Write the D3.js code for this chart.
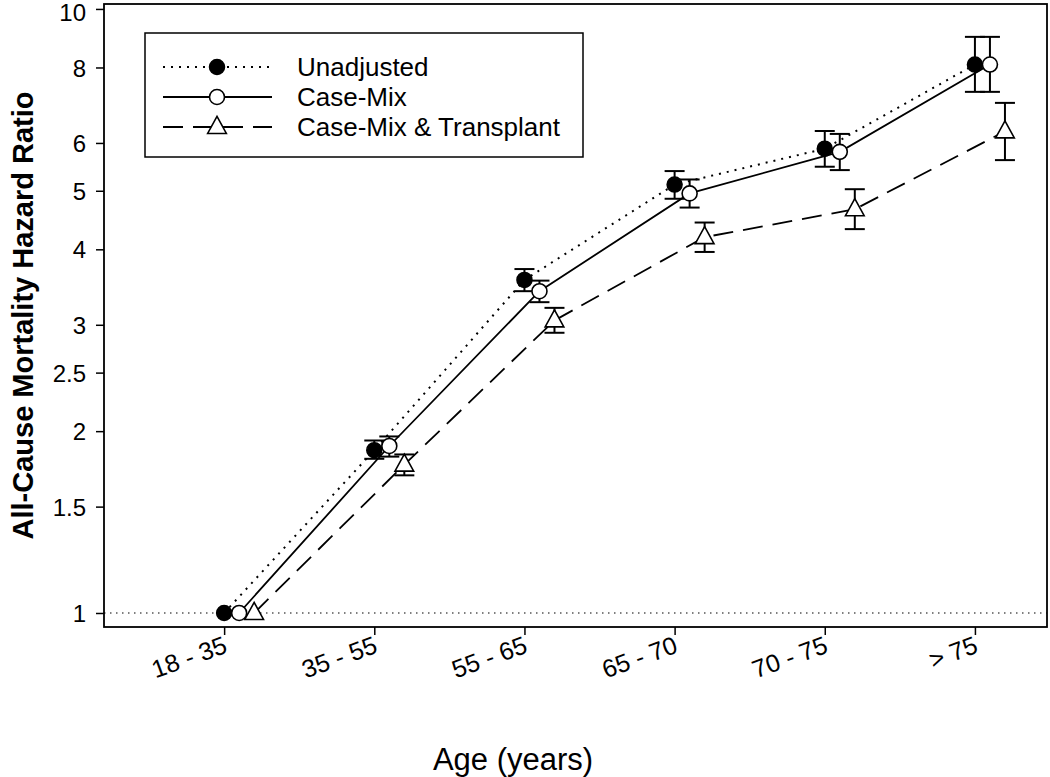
<!DOCTYPE html>
<html><head><meta charset="utf-8">
<script src="https://cdn.jsdelivr.net/npm/d3@7"></script>
<style>
html,body{margin:0;padding:0;background:#fff;}
svg{display:block;font-family:"Liberation Sans",Arial,sans-serif;}
</style></head>
<body><svg id="chart" width="1050" height="777"></svg>
<script>
const ageGroups = ["18 - 35","35 - 55","55 - 65","65 - 70","70 - 75","> 75"];
const yTicks = [1, 1.5, 2, 2.5, 3, 4, 5, 6, 8, 10];
const seriesNames = ["Unadjusted","Case-Mix","Case-Mix & Transplant"];

const unadjusted   = [1, 1.86, 3.56, 5.12, 5.87, 8.09];
const unadjustedLo = [null, 1.80, 3.41, 4.85, 5.48, 7.29];
const unadjustedHi = [null, 1.93, 3.71, 5.39, 6.28, 8.99];

const caseMix   = [1, 1.89, 3.41, 4.95, 5.80, 8.09];
const caseMixLo = [null, 1.815, 3.27, 4.69, 5.41, 7.29];
const caseMixHi = [null, 1.96, 3.55, 5.22, 6.21, 8.99];

const transplant   = [1, 1.76, 3.05, 4.19, 4.66, 6.27];
const transplantLo = [null, 1.69, 2.91, 3.96, 4.32, 5.62];
const transplantHi = [null, 1.83, 3.20, 4.43, 5.03, 6.99];

const svg = d3.select("#chart");
const L = 104, R = 1047, T = 4, B = 627;

const x = d3.scaleLinear().domain([0.2, 6.48]).range([L, R]);
const y = d3.scaleLog().domain([0.948, 10.19]).range([B, T]);

// reference line at 1
svg.append("line").attr("x1", L).attr("x2", R).attr("y1", y(1)).attr("y2", y(1))
  .attr("stroke", "#000").attr("stroke-width", 1.2).attr("stroke-dasharray", "1.5,4.5");

// axes
const yAxis = d3.axisLeft(y).tickValues(yTicks).tickFormat(d => String(d)).tickSize(8).tickPadding(10);
const gy = svg.append("g").attr("transform", `translate(${L},0)`).call(yAxis);
gy.select(".domain").remove();
gy.selectAll(".tick line").attr("stroke-width", 1.5);
gy.selectAll(".tick text").attr("font-size", 24).attr("dy", d => d === 10 ? "0.5em" : "0.36em")
  .attr("font-family", "Liberation Sans, Arial, sans-serif").attr("fill", "#000");

const xAxis = d3.axisBottom(x).tickValues(d3.range(1, 7)).tickFormat(d => ageGroups[d - 1]).tickSize(8);
const gx = svg.append("g").attr("transform", `translate(0,${B})`).call(xAxis);
gx.select(".domain").remove();
gx.selectAll(".tick line").attr("stroke-width", 1.5);
gx.selectAll(".tick text")
  .attr("font-size", 25).attr("font-family", "Liberation Sans, Arial, sans-serif").attr("fill", "#000")
  .attr("text-anchor", "end").attr("dy", null).attr("y", 0)
  .attr("transform", "translate(4,25) rotate(-20)");

// frame
svg.append("rect").attr("x", L).attr("y", T).attr("width", R - L).attr("height", B - T)
  .attr("fill", "none").attr("stroke", "#000").attr("stroke-width", 1.8);

const series = [
  {name: seriesNames[0], vals: unadjusted, lo: unadjustedLo, hi: unadjustedHi, off: 0, dash: "2,6", marker: "filled"},
  {name: seriesNames[1], vals: caseMix, lo: caseMixLo, hi: caseMixHi, off: 0.1, dash: null, marker: "open"},
  {name: seriesNames[2], vals: transplant, lo: transplantLo, hi: transplantHi, off: 0.2, dash: "20,10", marker: "tri"}
];

const line = d3.line().x(d => x(d.i + 1 + d.off)).y(d => y(d.v));
const triPath = s => `M0,${-s*0.62}L${s*0.55},${s*0.38}L${-s*0.55},${s*0.38}Z`;

function drawMarker(g, type, cx, cy) {
  if (type === "filled") {
    g.append("circle").attr("cx", cx).attr("cy", cy).attr("r", 7.5).attr("fill", "#000").attr("stroke", "#000").attr("stroke-width", 1.5);
  } else if (type === "open") {
    g.append("circle").attr("cx", cx).attr("cy", cy).attr("r", 7.5).attr("fill", "#fff").attr("stroke", "#000").attr("stroke-width", 1.6);
  } else {
    g.append("path").attr("d", triPath(17)).attr("transform", `translate(${cx},${cy})`)
      .attr("fill", "#fff").attr("stroke", "#000").attr("stroke-width", 1.6);
  }
}

series.forEach(s => {
  const g = svg.append("g");
  const pts = s.vals.map((v, i) => ({v, i, off: s.off}));
  g.append("path").attr("d", line(pts)).attr("fill", "none").attr("stroke", "#000")
    .attr("stroke-width", s.dash === "2,6" ? 2 : 1.8).attr("stroke-dasharray", s.dash);
  pts.forEach((p, i) => {
    const cx = x(i + 1 + s.off);
    if (s.lo[i] != null) {
      const yl = y(s.lo[i]), yh = y(s.hi[i]);
      g.append("line").attr("x1", cx).attr("x2", cx).attr("y1", yl).attr("y2", yh).attr("stroke", "#000").attr("stroke-width", 2);
      [yl, yh].forEach(yy => g.append("line").attr("x1", cx - 10).attr("x2", cx + 10).attr("y1", yy).attr("y2", yy).attr("stroke", "#000").attr("stroke-width", 2));
    }
    drawMarker(g, s.marker, cx, y(p.v));
  });
});

// legend
const lg = svg.append("g");
lg.append("rect").attr("x", 145).attr("y", 33).attr("width", 438).attr("height", 124)
  .attr("fill", "#fff").attr("stroke", "#000").attr("stroke-width", 1.5);
series.forEach((s, k) => {
  const ry = 67 + k * 30;
  lg.append("line").attr("x1", 163).attr("x2", 272).attr("y1", ry).attr("y2", ry)
    .attr("stroke", "#000").attr("stroke-width", s.dash === "2,6" ? 2 : 1.8).attr("stroke-dasharray", s.dash);
  drawMarker(lg, s.marker, 217, ry);
  lg.append("text").attr("x", 297).attr("y", ry).attr("dy", "0.35em").attr("font-size", 26).text(s.name);
});

// axis titles
svg.append("text").attr("x", 513).attr("y", 770).attr("text-anchor", "middle").attr("font-size", 31).text("Age (years)");
svg.append("text").attr("transform", `translate(33,${(T + B) / 2}) rotate(-90)`).attr("text-anchor", "middle")
  .attr("font-size", 29).attr("font-weight", "bold").text("All-Cause Mortality Hazard Ratio");
</script></body></html>
